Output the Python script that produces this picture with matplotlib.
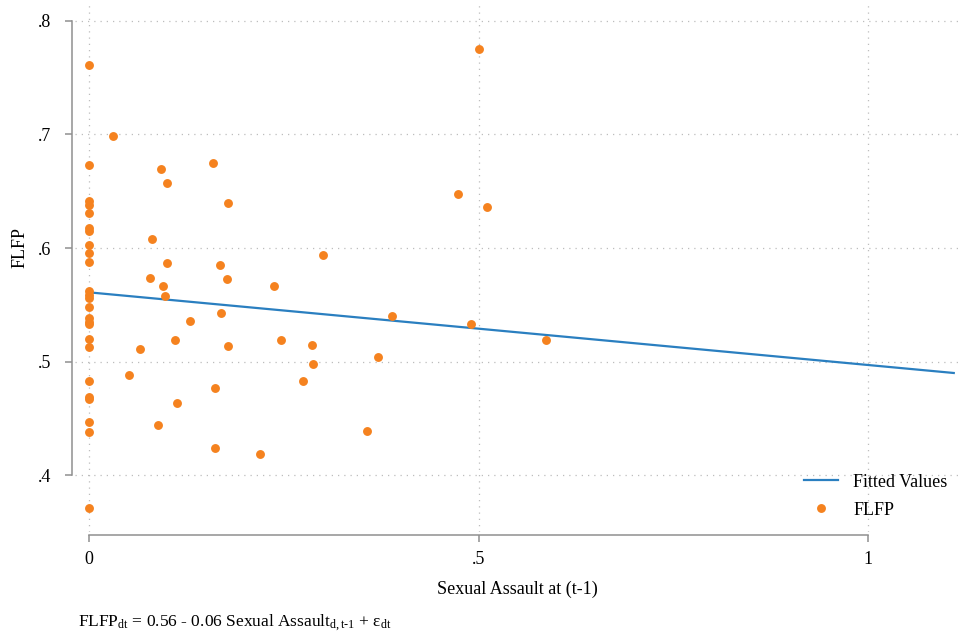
import numpy as np
import matplotlib
matplotlib.use('Agg')
import matplotlib.pyplot as plt

plt.rcParams['font.family'] = ['Liberation Serif', 'DejaVu Serif']
plt.rcParams['mathtext.fontset'] = 'custom'
plt.rcParams['mathtext.rm'] = 'Liberation Serif'
plt.rcParams['mathtext.it'] = 'Liberation Serif:italic'

# datos: Sexual Assault (t-1) vs FLFP
sa_zero = [0, 0, 0, 0, 0, 0, 0, 0, 0, 0, 0, 0, 0, 0, 0, 0, 0, 0, 0, 0, 0, 0, 0, 0, 0]
flfp_zero = [0.761, 0.673, 0.641, 0.638, 0.631, 0.618, 0.615, 0.603, 0.596, 0.588,
             0.562, 0.559, 0.556, 0.548, 0.538, 0.535, 0.533, 0.520, 0.513, 0.483,
             0.469, 0.467, 0.447, 0.438, 0.371]

sa_rest = [0.031, 0.092, 0.100, 0.159, 0.178, 0.081, 0.100, 0.078, 0.095, 0.097,
           0.168, 0.177, 0.130, 0.170, 0.111, 0.178, 0.066, 0.051, 0.162, 0.113,
           0.088, 0.162, 0.220, 0.237, 0.247, 0.286, 0.288, 0.275, 0.300, 0.371,
           0.357, 0.389, 0.474, 0.500, 0.511, 0.490, 0.586]
flfp_rest = [0.699, 0.670, 0.657, 0.675, 0.640, 0.608, 0.587, 0.574, 0.567, 0.558,
             0.585, 0.573, 0.536, 0.543, 0.519, 0.514, 0.511, 0.488, 0.477, 0.464,
             0.444, 0.424, 0.419, 0.567, 0.519, 0.515, 0.498, 0.483, 0.594, 0.504,
             0.439, 0.540, 0.648, 0.775, 0.636, 0.533, 0.519]

sa = np.array(sa_zero + sa_rest)
flfp = np.array(flfp_zero + flfp_rest)

# recta ajustada (valores del grafico)
fit_x = [0.0, 1.11]
fit_y = [0.561, 0.490]

azul = '#2a7fc0'
naranja = '#f5821f'
gris = '#8f8f8f'
fs = 13

fig = plt.figure(figsize=(9.62, 6.4), dpi=100)
ax = fig.add_axes([75/962, (640-532)/640, 885/962, 527/640])

ax.plot(fit_x, fit_y, color=azul, linewidth=1.6, label='Fitted Values', zorder=3)
ax.plot(sa, flfp, 'o', color=naranja, markersize=6.4, markeredgewidth=0, label='FLFP', zorder=4)

ax.set_xlim(-0.018, 1.118)
ax.set_ylim(0.350, 0.814)
ax.set_xticks([0, 0.5, 1])
ax.set_xticklabels(['0', '.5', '1'])
ax.set_yticks([0.4, 0.5, 0.6, 0.7, 0.8])
ax.set_yticklabels(['.4', '.5', '.6', '.7', '.8'])

ax.grid(True, linestyle=(0, (1, 4)), color='#bdbdbd', linewidth=0.9)
ax.set_axisbelow(True)

ax.spines['top'].set_visible(False)
ax.spines['right'].set_visible(False)
ax.spines['left'].set_position(('outward', 2))
ax.spines['bottom'].set_position(('outward', 2))
ax.spines['left'].set_bounds(0.4, 0.8)
ax.spines['bottom'].set_bounds(0, 1)
for s in ['left', 'bottom']:
    ax.spines[s].set_color(gris)
    ax.spines[s].set_linewidth(1.1)
ax.tick_params(axis='y', direction='out', length=5, width=1.1, color=gris, pad=10, labelsize=fs)
ax.tick_params(axis='x', direction='out', length=5, width=1.1, color=gris, pad=7, labelsize=fs)

ax.set_xlabel('Sexual Assault at (t-1)', fontsize=fs, labelpad=9)
ax.set_ylabel('FLFP', fontsize=fs)
ax.yaxis.set_label_coords(-0.052, 0.539)

ax.legend(loc='lower left', bbox_to_anchor=(0.813, 0.008), frameon=False, fontsize=fs,
          borderpad=0, handlelength=1.9, handletextpad=0.85, labelspacing=0.62)

fig.text(78/962, 1 - 626/640,
         'FLFP$_{\\mathrm{dt}}$ = 0.56 - 0.06 Sexual Assault$_{\\mathrm{d,t\u20101}}$ + ε$_{\\mathrm{dt}}$',
         fontsize=12.5, ha='left', va='baseline')

fig.savefig('out.png', dpi=100)
plt.close()
